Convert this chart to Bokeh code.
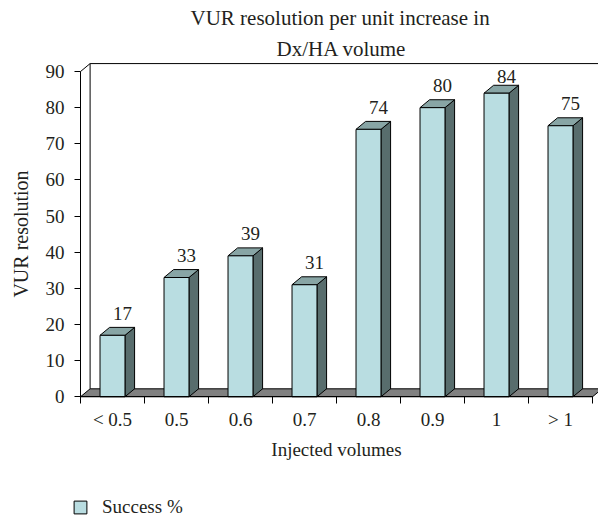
from bokeh.plotting import figure
from bokeh.models import Range1d, FixedTicker, Title, Legend, LegendItem
from bokeh.core.properties import value
from bokeh.embed import file_html
from bokeh.resources import INLINE

# ---- data ----
categories = ["< 0.5", "0.5", "0.6", "0.7", "0.8", "0.9", "1", "> 1"]
success = [17, 33, 39, 31, 74, 80, 84, 75]
y_ticks = [0, 10, 20, 30, 40, 50, 60, 70, 80, 90]
title_lines = ["VUR resolution per unit increase in", "Dx/HA volume"]
series_name = "Success %"

# ---- style ----
FONT = "Liberation Serif"
TXT = "#231f20"
FRONT = "#b9dde1"
TOP = "#88a5a5"
SIDE = "#586d6d"
FLOOR = "#808080"

W, H = 598, 518
TOP_PX = 61           # space for the two title lines
PX_X = 64.0           # px per category
ORIGIN_X = 80         # px of x = 0
n = len(categories)
ymax_axis = max(y_ticks)
dx = 0.15             # depth offset (category units)
dy = 2.2              # depth offset (value units)
bw = 0.39
ytop = ymax_axis + dy + 0.3
PX_Y = 335.0 / ytop   # px per value unit
ybot = ytop - (H - TOP_PX) / PX_Y
xl = -ORIGIN_X / PX_X
xr = xl + W / PX_X

p = figure(width=W, height=H, output_backend="svg", toolbar_location=None,
           x_range=Range1d(xl, xr), y_range=Range1d(ybot, ytop),
           min_border_left=0, min_border_right=0, min_border_top=TOP_PX, min_border_bottom=0)
p.outline_line_color = None
p.grid.visible = False

# floor
p.patch([0, n, n + dx, dx], [0, 0, dy, dy], fill_color=FLOOR, line_color="black", line_width=1)
# back wall edges
p.segment(x0=[0, dx, dx], y0=[ymax_axis, dy, ymax_axis + dy],
          x1=[dx, dx, n + 1], y1=[ymax_axis + dy, ymax_axis + dy, ymax_axis + dy],
          line_color="black", line_width=1)

centers = [i + 0.5 for i in range(n)]
left = [c - bw / 2 for c in centers]
right = [c + bw / 2 for c in centers]

side_xs = [[r, r + dx, r + dx, r] for r in right]
side_ys = [[0, dy, v + dy, v] for v in success]
top_xs = [[l, r, r + dx, l + dx] for l, r in zip(left, right)]
top_ys = [[v, v, v + dy, v + dy] for v in success]

p.patches(side_xs, side_ys, fill_color=SIDE, line_color="black", line_width=1)
p.patches(top_xs, top_ys, fill_color=TOP, line_color="black", line_width=1)
front = p.quad(left=left, right=right, bottom=0, top=success,
               fill_color=FRONT, line_color="black", line_width=1)

lab_y = [min(v + dy + 3.9, 88.6) for v in success]
p.text(x=[c + dx * 1.05 for c in centers], y=lab_y, text=[str(v) for v in success],
       text_align="center", text_baseline="alphabetic",
       text_font=value(FONT), text_font_size="19px", text_color=TXT)

# axes (fixed at the data origin so they take no border space)
xa = p.xaxis[0]
xa.fixed_location = 0
xa.ticker = FixedTicker(ticks=centers, minor_ticks=list(range(n + 1)))
xa.bounds = (0, n)
xa.major_label_overrides = {c: cat for c, cat in zip(centers, categories)}
xa.major_tick_out = 0
xa.major_tick_in = 0
xa.minor_tick_out = 7
xa.minor_tick_in = 0
xa.minor_tick_line_color = "black"
xa.axis_line_color = "black"
xa.major_label_standoff = 5
xa.major_label_text_font = FONT
xa.major_label_text_font_size = "19px"
xa.major_label_text_color = TXT
xa.axis_label = "Injected volumes"
xa.axis_label_text_font = FONT
xa.axis_label_text_font_size = "19px"
xa.axis_label_text_font_style = "normal"
xa.axis_label_text_color = TXT
xa.axis_label_standoff = 6

ya = p.yaxis[0]
ya.fixed_location = 0
ya.ticker = FixedTicker(ticks=y_ticks, minor_ticks=[])
ya.bounds = (0, ymax_axis)
ya.major_tick_out = 6
ya.major_tick_in = 0
ya.major_tick_line_color = "black"
ya.axis_line_color = "black"
ya.major_label_standoff = 10
ya.major_label_text_font = FONT
ya.major_label_text_font_size = "19px"
ya.major_label_text_color = TXT
ya.axis_label = "VUR resolution"
ya.axis_label_text_font = FONT
ya.axis_label_text_font_size = "20px"
ya.axis_label_text_font_style = "normal"
ya.axis_label_text_color = TXT
ya.axis_label_standoff = 11

# title (two lines, inner one first)
p.add_layout(Title(text=title_lines[1], align="left", offset=276, text_font=FONT,
                   text_font_size="21px", text_font_style="normal", text_color=TXT,
                   standoff=4), "above")
p.add_layout(Title(text=title_lines[0], align="left", offset=190, text_font=FONT,
                   text_font_size="21px", text_font_style="normal", text_color=TXT,
                   standoff=6), "above")

legend = Legend(items=[LegendItem(label=series_name, renderers=[front])],
                location=(72, 0), glyph_width=16, glyph_height=16, label_height=16,
                padding=0, margin=0, spacing=0, label_standoff=14,
                border_line_color=None, background_fill_alpha=0,
                label_text_font=FONT, label_text_font_size="19px", label_text_color=TXT)
p.add_layout(legend)

open("out.html", "w").write(file_html(p, INLINE))
